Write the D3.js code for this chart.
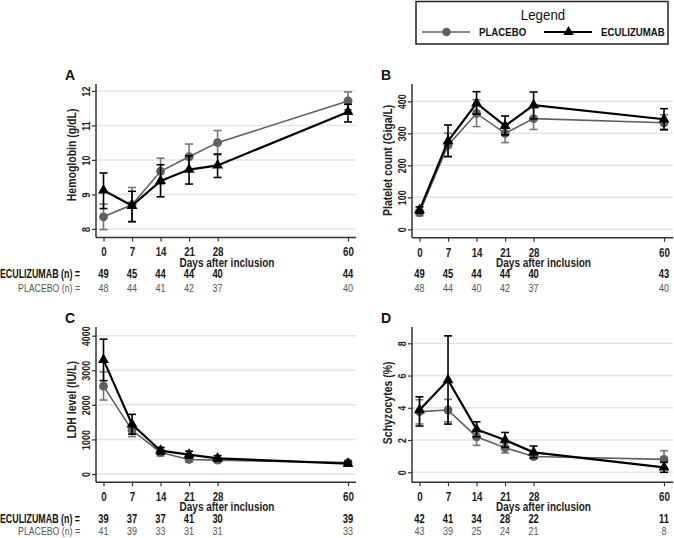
<!DOCTYPE html>
<html>
<head>
<meta charset="utf-8">
<script src="https://cdn.jsdelivr.net/npm/d3@7"></script>
<style>
  body { margin: 0; background: #fff; }
  svg { display: block; font-family: "Liberation Sans", Arial, sans-serif; }
</style>
</head>
<body>
<svg id="chart" width="674" height="538"></svg>
<script>
// Data
const days = [0, 7, 14, 21, 28, 60];

const hbPlacebo = [8.35, 8.7, 9.67, 10.09, 10.5, 11.71];
const hbPlaceboLo = [7.98, 8.21, 9.3, 9.7, 10.15, 11.45];
const hbPlaceboHi = [8.72, 9.2, 10.05, 10.46, 10.85, 11.97];
const hbEcu = [9.12, 8.67, 9.39, 9.72, 9.84, 11.39];
const hbEcuLo = [8.59, 8.21, 8.93, 9.3, 9.49, 11.1];
const hbEcuHi = [9.62, 9.09, 9.86, 10.12, 10.17, 11.61];

const pltPlacebo = [52, 263, 362, 300, 346, 333];
const pltPlaceboLo = [42, 228, 321, 271, 312, 310];
const pltPlaceboHi = [62, 300, 405, 330, 380, 358];
const pltEcu = [60, 276, 394, 323, 388, 344];
const pltEcuLo = [50, 227, 360, 295, 345, 312];
const pltEcuHi = [70, 326, 430, 354, 429, 377];

const ldhPlacebo = [2540, 1270, 620, 420, 400, 330];
const ldhPlaceboLo = [2140, 1080, 520, 340, 330, 270];
const ldhPlaceboHi = [2950, 1420, 720, 490, 460, 390];
const ldhEcu = [3300, 1436, 674, 560, 450, 300];
const ldhEcuLo = [2700, 1150, 570, 460, 370, 240];
const ldhEcuHi = [3900, 1725, 770, 660, 530, 360];

const schPlacebo = [3.76, 3.86, 2.2, 1.52, 0.98, 0.8];
const schPlaceboLo = [3.0, 3.13, 1.67, 1.2, 0.85, 0.3];
const schPlaceboHi = [4.5, 4.52, 2.62, 1.85, 1.15, 1.34];
const schEcu = [3.86, 5.72, 2.66, 2.0, 1.24, 0.31];
const schEcuLo = [2.87, 2.99, 2.2, 1.55, 0.9, 0.0];
const schEcuHi = [4.68, 8.46, 3.13, 2.47, 1.63, 0.62];

const hbNEcu = [49, 45, 44, 44, 40, 44];
const hbNPla = [48, 44, 41, 42, 37, 40];
const pltNEcu = [49, 45, 44, 44, 40, 43];
const pltNPla = [48, 44, 40, 42, 37, 40];
const ldhNEcu = [39, 37, 37, 41, 30, 39];
const ldhNPla = [41, 39, 33, 31, 31, 33];
const schNEcu = [42, 41, 34, 28, 22, 11];
const schNPla = [43, 39, 25, 24, 21, 8];

const hbTicks = [8, 9, 10, 11, 12];
const pltTicks = [0, 100, 200, 300, 400];
const ldhTicks = [0, 1000, 2000, 3000, 4000];
const schTicks = [0, 2, 4, 6, 8];

const PLA_COLOR = '#606060';
const ECU_COLOR = '#000';
const NARROW = 0.78; // fake a condensed face (no Arial Narrow available)

const svg = d3.select('#chart');

// Panel layout
const panels = [
  { label: 'A', title: 'Hemoglobin (g/dL)', ox: 96, base: 237.5, top: 84, right: 356,
    ticks: hbTicks, tickPix: [-8.6, -146.6], showRowLabels: true, nRows: [274, 288],
    pla: [hbPlacebo, hbPlaceboLo, hbPlaceboHi], ecu: [hbEcu, hbEcuLo, hbEcuHi], nEcu: hbNEcu, nPla: hbNPla },
  { label: 'B', title: 'Platelet count (Giga/L)', ox: 412, base: 237.7, top: 84, right: 673,
    ticks: pltTicks, tickPix: [-8.4, -136.4], showRowLabels: false, nRows: [274, 288],
    pla: [pltPlacebo, pltPlaceboLo, pltPlaceboHi], ecu: [pltEcu, pltEcuLo, pltEcuHi], nEcu: pltNEcu, nPla: pltNPla },
  { label: 'C', title: 'LDH level (IU/L)', ox: 96, base: 482.3, top: 327, right: 356,
    ticks: ldhTicks, tickPix: [-8.3, -146.6], showRowLabels: true, nRows: [519, 530.5],
    pla: [ldhPlacebo, ldhPlaceboLo, ldhPlaceboHi], ecu: [ldhEcu, ldhEcuLo, ldhEcuHi], nEcu: ldhNEcu, nPla: ldhNPla },
  { label: 'D', title: 'Schyzocytes (%)', ox: 412, base: 482.3, top: 327, right: 673,
    ticks: schTicks, tickPix: [-10, -139], showRowLabels: false, nRows: [519, 530.5],
    pla: [schPlacebo, schPlaceboLo, schPlaceboHi], ecu: [schEcu, schEcuLo, schEcuHi], nEcu: schNEcu, nPla: schNPla },
];

panels.forEach(drawPanel);
drawLegend();

// squeezed text placed at (x, y)
function ntext(parent, x, y, str, k = NARROW) {
  return parent.append('text')
    .attr('transform', `translate(${x},${y}) scale(${k},1)`)
    .text(str);
}

function drawPanel(p) {
  const g = svg.append('g').attr('transform', `translate(${p.ox},${p.base})`);
  const x = d3.scaleLinear().domain([0, 60]).range([7.5, 252]);
  const y = d3.scaleLinear().domain([p.ticks[0], p.ticks[p.ticks.length - 1]]).range(p.tickPix);
  const w = p.right - p.ox;

  // gridlines
  g.append('g').selectAll('line').data(p.ticks).join('line')
    .attr('x1', 0).attr('x2', w)
    .attr('y1', (d) => y(d)).attr('y2', (d) => y(d))
    .attr('stroke', '#e4e4e4').attr('stroke-width', 1.5);

  // y axis
  const yAxis = g.append('g').call(d3.axisLeft(y).tickValues(p.ticks).tickSize(4).tickFormat(d3.format('d')));
  yAxis.select('.domain').remove();
  yAxis.selectAll('.tick line').attr('stroke', '#333').attr('stroke-width', 1.2);
  yAxis.selectAll('.tick text')
    .attr('x', 0).attr('y', 0).attr('dy', '0.35em')
    .attr('text-anchor', 'middle')
    .attr('transform', `translate(-10,0) rotate(-90) scale(${NARROW},1)`)
    .attr('font-size', 11.5).attr('font-weight', 'bold').attr('fill', '#222');
  g.append('line').attr('x1', 0).attr('x2', 0).attr('y1', p.top - p.base).attr('y2', 0)
    .attr('stroke', '#333').attr('stroke-width', 1.5);

  // x axis
  const xAxis = g.append('g').call(d3.axisBottom(x).tickValues(days).tickSize(4).tickPadding(6));
  xAxis.select('.domain').remove();
  xAxis.selectAll('.tick line').attr('stroke', '#333').attr('stroke-width', 1.2);
  xAxis.selectAll('.tick text').attr('transform', `scale(${NARROW},1)`)
    .attr('font-size', 12.5).attr('font-weight', 'bold').attr('fill', '#222');
  g.append('line').attr('x1', 0).attr('x2', w).attr('y1', 0).attr('y2', 0)
    .attr('stroke', '#333').attr('stroke-width', 1.5);

  ntext(g, w / 2 + 1, 29, 'Days after inclusion', 0.8)
    .attr('text-anchor', 'middle')
    .attr('font-size', 12.5).attr('font-weight', 'bold').attr('fill', '#222');

  // y title
  const yMid = (y(p.ticks[0]) + y(p.ticks[p.ticks.length - 1])) / 2 - 5;
  g.append('text').attr('transform', `translate(-24,${yMid}) rotate(-90) scale(0.84,1)`)
    .attr('dy', '0.35em')
    .attr('text-anchor', 'middle').attr('font-size', 12.5).attr('font-weight', 'bold').attr('fill', '#222')
    .text(p.title);

  // panel letter
  svg.append('text').attr('x', p.ox - 26).attr('y', p.top - 4)
    .attr('text-anchor', 'middle').attr('font-size', 14).attr('font-weight', 'bold')
    .attr('fill', '#111')
    .text(p.label);

  drawSeries(g, x, y, p.pla, 'circle', PLA_COLOR, 1.6, '#777');
  drawSeries(g, x, y, p.ecu, 'triangle', ECU_COLOR, 2.2, '#000');

  // n at risk rows
  const rows = svg.append('g');
  p.nEcu.forEach((n, i) => {
    ntext(rows, p.ox + x(days[i]), p.nRows[0] + 4, n)
      .attr('text-anchor', 'middle').attr('font-size', 12).attr('font-weight', 'bold').attr('fill', '#111');
  });
  p.nPla.forEach((n, i) => {
    ntext(rows, p.ox + x(days[i]), p.nRows[1] + 4, n)
      .attr('text-anchor', 'middle').attr('font-size', 11.5).attr('fill', '#555');
  });
  if (p.showRowLabels) {
    ntext(rows, 80, p.nRows[0] + 4, 'ECULIZUMAB  (n) =', 0.74).attr('text-anchor', 'end')
      .attr('font-size', 12).attr('font-weight', 'bold').attr('fill', '#111');
    ntext(rows, 80, p.nRows[1] + 4, 'PLACEBO (n) =', 0.76).attr('text-anchor', 'end')
      .attr('font-size', 11.5).attr('fill', '#555');
  }
}

function drawSeries(g, x, y, series, shape, color, lw, barColor) {
  const [mean, lo, hi] = series;
  const pts = days.map((d, i) => ({ d, m: mean[i], lo: lo[i], hi: hi[i] }));
  const s = g.append('g');

  s.selectAll('line.err').data(pts).join('line').attr('class', 'err')
    .attr('x1', (d) => x(d.d)).attr('x2', (d) => x(d.d))
    .attr('y1', (d) => y(d.lo)).attr('y2', (d) => y(d.hi))
    .attr('stroke', barColor).attr('stroke-width', 1.6);
  ['lo', 'hi'].forEach((k) => {
    s.selectAll(`line.cap-${k}`).data(pts).join('line').attr('class', `cap-${k}`)
      .attr('x1', (d) => x(d.d) - 4).attr('x2', (d) => x(d.d) + 4)
      .attr('y1', (d) => y(d[k])).attr('y2', (d) => y(d[k]))
      .attr('stroke', barColor).attr('stroke-width', 1.6);
  });

  s.append('path').datum(pts)
    .attr('d', d3.line().x((d) => x(d.d)).y((d) => y(d.m)))
    .attr('fill', 'none').attr('stroke', color).attr('stroke-width', lw);

  const sym = shape === 'circle' ? d3.symbol(d3.symbolCircle, 62) : d3.symbol(d3.symbolTriangle, 52);
  s.selectAll('path.mk').data(pts).join('path').attr('class', 'mk')
    .attr('transform', (d) => `translate(${x(d.d)},${y(d.m)})`)
    .attr('d', sym).attr('fill', color);
}

function drawLegend() {
  const lg = svg.append('g');
  lg.append('rect').attr('x', 416).attr('y', 1.5).attr('width', 252).attr('height', 42.5)
    .attr('fill', '#fff').attr('stroke', '#222').attr('stroke-width', 1.5);
  ntext(lg, 543, 20, 'Legend', 0.95).attr('text-anchor', 'middle')
    .attr('font-size', 14).attr('fill', '#111');
  const items = [
    { name: 'PLACEBO', color: PLA_COLOR, lw: 1.6, x0: 422, sym: d3.symbol(d3.symbolCircle, 56) },
    { name: 'ECULIZUMAB', color: ECU_COLOR, lw: 2.2, x0: 544, sym: d3.symbol(d3.symbolTriangle, 48) },
  ];
  items.forEach((it) => {
    lg.append('line').attr('x1', it.x0).attr('x2', it.x0 + 48).attr('y1', 32).attr('y2', 32)
      .attr('stroke', it.color).attr('stroke-width', it.lw);
    lg.append('path').attr('transform', `translate(${it.x0 + 24.5},32)`).attr('d', it.sym).attr('fill', it.color);
    ntext(lg, it.x0 + 57, 36, it.name, 0.84).attr('font-size', 11.5).attr('font-weight', 'bold')
      .attr('fill', '#111');
  });
}
</script>
</body>
</html>
